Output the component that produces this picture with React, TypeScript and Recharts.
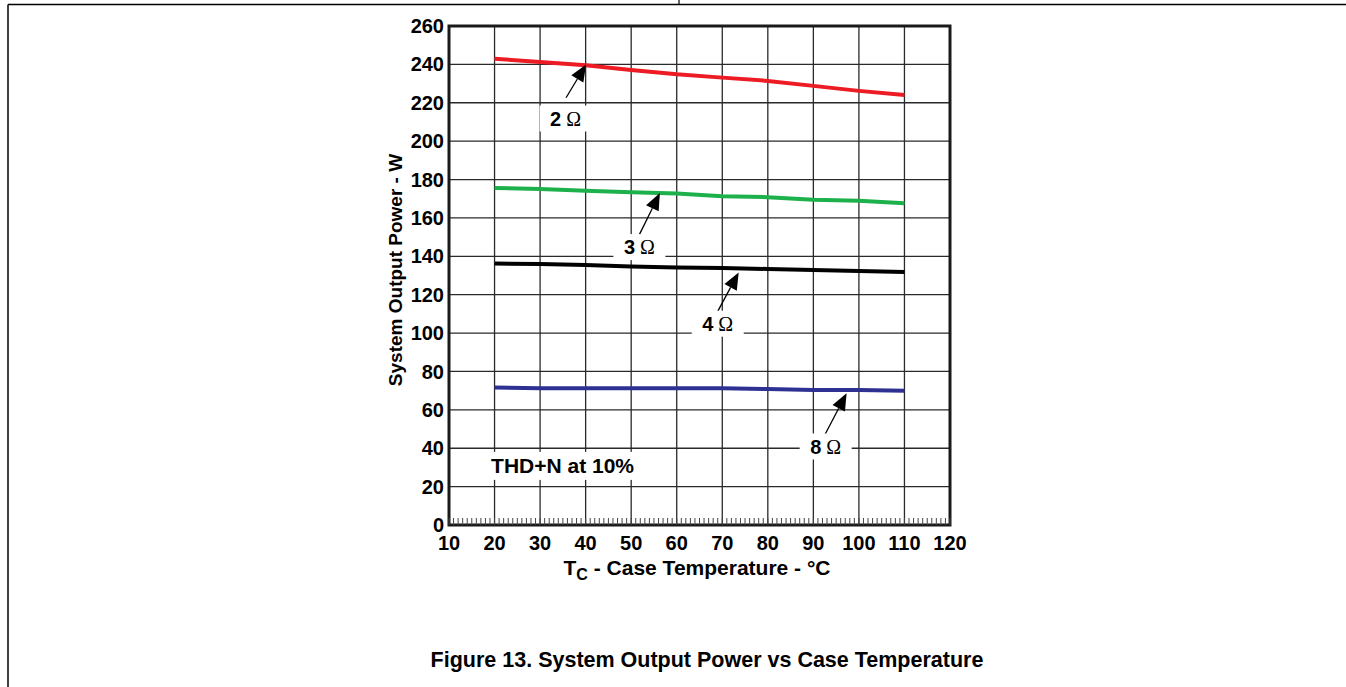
import React from "react";
import {
  LineChart,
  Line,
  XAxis,
  YAxis,
  CartesianGrid,
  ReferenceArea,
  ReferenceLine,
  ReferenceDot,
} from "recharts";

// === Values ===
const temps = [20, 30, 40, 50, 60, 70, 80, 90, 100, 110];
const power2ohm = [242.9, 241.3, 239.6, 237.1, 234.8, 233.1, 231.4, 228.8, 226.2, 224.0];
const power3ohm = [175.6, 175.1, 174.2, 173.4, 172.7, 171.3, 170.8, 169.5, 168.9, 167.6];
const power4ohm = [136.2, 136.0, 135.5, 134.7, 134.2, 133.9, 133.4, 132.9, 132.3, 131.8];
const power8ohm = [71.6, 71.3, 71.3, 71.3, 71.3, 71.2, 70.8, 70.4, 70.4, 69.9];

const xTicks = [10, 20, 30, 40, 50, 60, 70, 80, 90, 100, 110, 120];
const yTicks = [0, 20, 40, 60, 80, 100, 120, 140, 160, 180, 200, 220, 240, 260];

// callout labels: text, label centre, arrow tail, arrow tip (data units)
const calloutText = ["2", "3", "4", "8"];
const calloutLabelAt = [
  { x: 35.6, y: 211.8 },
  { x: 51.8, y: 144.8 },
  { x: 69.0, y: 104.9 },
  { x: 92.7, y: 40.9 },
];
const calloutTail = [
  { x: 35.7, y: 222.6 },
  { x: 51.8, y: 151.3 },
  { x: 69.0, y: 111.3 },
  { x: 92.5, y: 46.9 },
];
const calloutTip = [
  { x: 40.1, y: 240.0 },
  { x: 56.3, y: 173.0 },
  { x: 73.6, y: 131.6 },
  { x: 97.3, y: 68.7 },
];

const noteText = "THD+N at 10%";
const noteAt = { x: 19.24, y: 30.8 };

const rows = temps.map((t, i) => ({
  t,
  r2: power2ohm[i],
  r3: power3ohm[i],
  r4: power4ohm[i],
  r8: power8ohm[i],
}));

const minorX = Array.from({ length: 111 }, (_, i) => 10 + i);
const minorY = Array.from({ length: 131 }, (_, i) => i * 2);

const FONT = "'Liberation Sans', Arial, Helvetica, sans-serif";
const tickStyle = { fill: "#000", fontFamily: FONT, fontWeight: 700, fontSize: 20 };
const noTick = () => <g />;

const Arrow = (p: any) => {
  const { x1, y1, x2, y2 } = p;
  const dx = x2 - x1;
  const dy = y2 - y1;
  const len = Math.hypot(dx, dy) || 1;
  const ux = dx / len;
  const uy = dy / len;
  const L = 17;
  const W = 7;
  const bx = x2 - ux * L;
  const by = y2 - uy * L;
  const pts = `${x2},${y2} ${bx - uy * W},${by + ux * W} ${bx + uy * W},${by - ux * W}`;
  return (
    <g>
      <line x1={x1} y1={y1} x2={bx} y2={by} stroke="#000" strokeWidth={1.3} />
      <polygon points={pts} fill="#000" />
    </g>
  );
};

const makeLabel = (txt: string) => (p: any) => {
  const { cx, cy } = p;
  return (
    <g>
      <rect x={cx - 26} y={cy - 13} width={52} height={26} fill="#fff" />
      <text
        x={cx}
        y={cy}
        textAnchor="middle"
        dominantBaseline="central"
        fontFamily={FONT}
        fontWeight={700}
        fontSize={20}
        fill="#000"
      >
        {txt}
        <tspan fontFamily="'Liberation Serif', 'Times New Roman', serif" fontWeight={400}>
          {" Ω"}
        </tspan>
      </text>
    </g>
  );
};

const NoteShape = (p: any) => {
  const { cx, cy } = p;
  return (
    <g>
      <rect x={cx - 4} y={cy - 14} width={147} height={28} fill="#fff" />
      <text
        x={cx}
        y={cy}
        dominantBaseline="central"
        fontFamily={FONT}
        fontWeight={700}
        fontSize={21}
        fill="#000"
      >
        {noteText}
      </text>
    </g>
  );
};

export default function App() {
  return (
    <div
      style={{
        position: "absolute",
        left: 0,
        top: 0,
        width: 1346,
        height: 687,
        background: "#fff",
        overflow: "hidden",
      }}
    >
      {/* page frame */}
      <svg width={1346} height={687} style={{ position: "absolute", left: 0, top: 0 }}>
        <line x1={8} y1={4.5} x2={1346} y2={4.5} stroke="#000" strokeWidth={1.5} />
        <line x1={8} y1={4.5} x2={8} y2={687} stroke="#000" strokeWidth={1.5} />
        <line x1={679} y1={0} x2={679} y2={4.5} stroke="#000" strokeWidth={1.2} />
      </svg>

      <div style={{ position: "absolute", left: 0, top: 0 }}>
        <LineChart
          width={1346}
          height={687}
          data={rows}
          margin={{ top: 26, right: 396, bottom: 122, left: 389 }}
        >
          <CartesianGrid
            stroke="#2a2a2a"
            strokeWidth={1.3}
            horizontalValues={yTicks}
            verticalValues={xTicks}
          />
          {/* minor ticks (declared first so they sit on the plot edge) */}
          <XAxis
            xAxisId="minor"
            type="number"
            dataKey="t"
            domain={[10, 120]}
            ticks={minorX}
            interval={0}
            mirror
            height={1}
            tick={noTick}
            tickSize={7}
            axisLine={false}
            tickLine={{ stroke: "#444", strokeWidth: 1 }}
          />
          <YAxis
            yAxisId="minor"
            type="number"
            domain={[0, 260]}
            ticks={minorY}
            interval={0}
            mirror
            width={1}
            tick={noTick}
            tickSize={3}
            axisLine={false}
            tickLine={{ stroke: "#444", strokeWidth: 1 }}
          />
          <XAxis
            type="number"
            dataKey="t"
            domain={[10, 120]}
            ticks={xTicks}
            interval={0}
            height={40}
            axisLine={false}
            tickLine={false}
            tickSize={6}
            tickMargin={5}
            tick={tickStyle}
          />
          <YAxis
            type="number"
            domain={[0, 260]}
            ticks={yTicks}
            interval={0}
            width={60}
            axisLine={false}
            tickLine={false}
            tickSize={3}
            tickMargin={2}
            tick={tickStyle}
          />
          <ReferenceArea
            x1={10}
            x2={120}
            y1={0}
            y2={260}
            fill="none"
            fillOpacity={0}
            stroke="#1a1a1a"
            strokeWidth={3}
          />
          <Line dataKey="r2" stroke="#ed1c24" strokeWidth={4} dot={false} isAnimationActive={false} />
          <Line dataKey="r3" stroke="#1db14b" strokeWidth={4} dot={false} isAnimationActive={false} />
          <Line dataKey="r4" stroke="#000000" strokeWidth={4} dot={false} isAnimationActive={false} />
          <Line dataKey="r8" stroke="#2e3192" strokeWidth={4} dot={false} isAnimationActive={false} />

          {calloutText.map((txt, i) => (
            <ReferenceDot
              key={"lab" + i}
              x={calloutLabelAt[i].x}
              y={calloutLabelAt[i].y}
              r={1}
              shape={makeLabel(txt)}
            />
          ))}
          {calloutText.map((txt, i) => (
            <ReferenceLine
              key={"arr" + i}
              segment={[calloutTail[i], calloutTip[i]]}
              stroke="#000"
              shape={Arrow}
            />
          ))}
          <ReferenceDot x={noteAt.x} y={noteAt.y} r={1} shape={NoteShape} />
        </LineChart>
      </div>

      {/* axis titles and caption */}
      <div
        style={{
          position: "absolute",
          left: 396,
          top: 270,
          transform: "translate(-50%, -50%) rotate(-90deg)",
          whiteSpace: "nowrap",
          fontFamily: FONT,
          fontWeight: 700,
          fontSize: 19,
          lineHeight: "20px",
        }}
      >
        System Output Power - W
      </div>
      <div
        style={{
          position: "absolute",
          left: 697,
          top: 571,
          transform: "translate(-50%, -50%)",
          whiteSpace: "nowrap",
          fontFamily: FONT,
          fontWeight: 700,
          fontSize: 21,
          lineHeight: "22px",
        }}
      >
        T<sub style={{ fontSize: 16, verticalAlign: -5 }}>C</sub> - Case Temperature - °C
      </div>
      <div
        style={{
          position: "absolute",
          left: 707,
          top: 660,
          transform: "translate(-50%, -50%)",
          whiteSpace: "nowrap",
          fontFamily: FONT,
          fontWeight: 700,
          fontSize: 21.5,
          lineHeight: "22px",
        }}
      >
        Figure 13. System Output Power vs Case Temperature
      </div>
    </div>
  );
}
